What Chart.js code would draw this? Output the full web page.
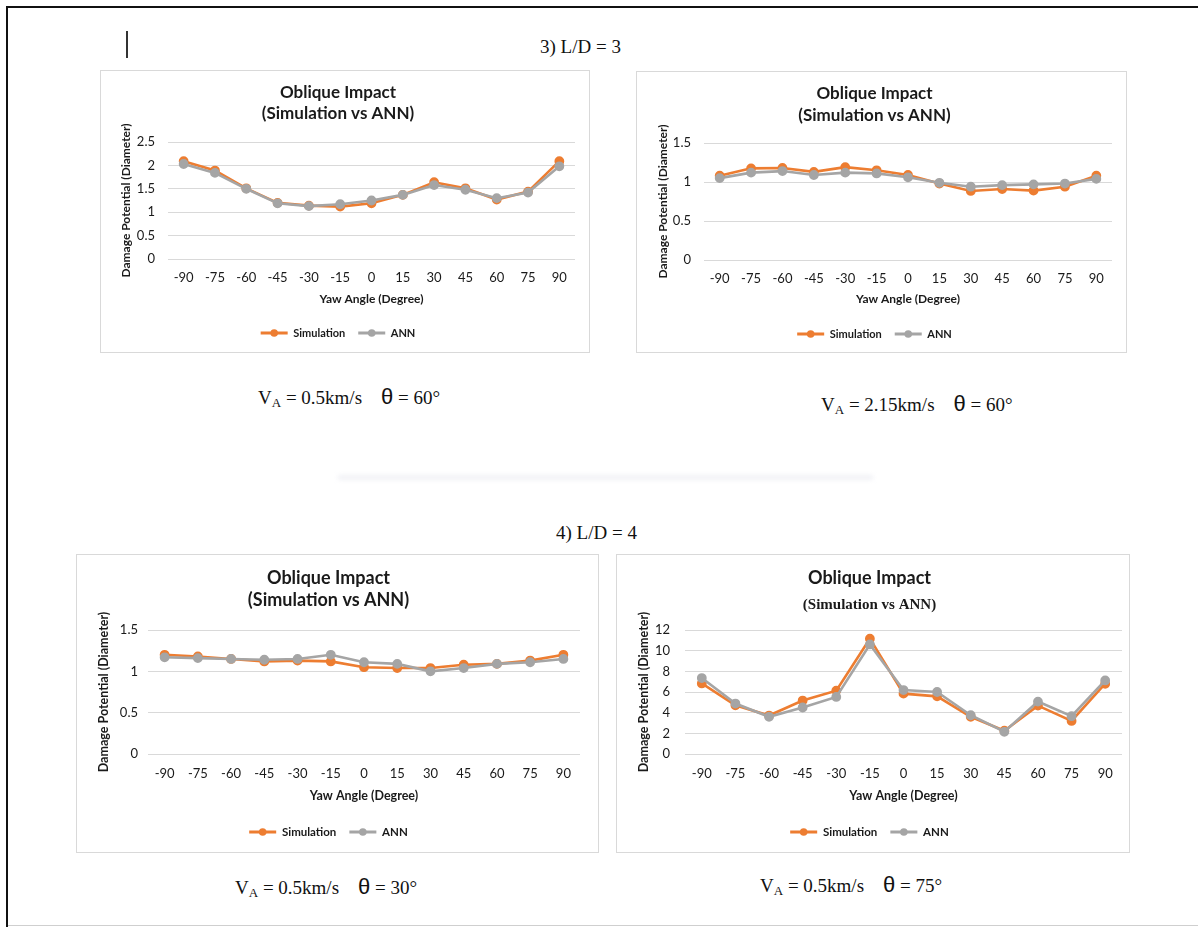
<!DOCTYPE html>
<html>
<head>
<meta charset="utf-8">
<script src="https://cdn.jsdelivr.net/npm/chart.js@4/dist/chart.umd.min.js"></script>
<style>
  body { margin: 0; background: #fff; }
  #page { position: relative; width: 1198px; height: 927px; overflow: hidden; background: #fff; }
  .frame { position: absolute; border: 1px solid #d9d9d9; background: #fff; }
  .frame canvas { display: block; }
  .txt { position: absolute; font-family: "Liberation Serif", "Times New Roman", serif; font-size: 19px;
         color: #111; white-space: nowrap; line-height: 1; }
  .txt sub { font-size: 13px; vertical-align: -3px; line-height: 0; }
  .theta { font-family: "Liberation Sans", Arial, sans-serif; font-size: 22px; }
</style>
</head>
<body>
<div id="page">
  <div style="position:absolute;left:6px;top:6px;width:1192px;height:2px;background:#111"></div>
  <div style="position:absolute;left:6px;top:6px;width:2px;height:921px;background:#111"></div>
  <div style="position:absolute;left:8px;top:925px;width:1190px;height:1px;background:#cfcfcf"></div>
  <div style="position:absolute;left:126px;top:31px;width:2px;height:27px;background:#333"></div>
  <div style="position:absolute;left:338px;top:475px;width:535px;height:5px;background:#f1f2f6;filter:blur(2px)"></div>

  <div class="txt" style="left:540px;top:37px">3) L/D = 3</div>
  <div class="txt" style="left:556px;top:523px">4) L/D = 4</div>

  <div class="frame" style="left:100px;top:70px"><canvas id="c1" width="488" height="281"></canvas></div>
  <div class="frame" style="left:636px;top:71px"><canvas id="c2" width="489" height="280"></canvas></div>
  <div class="frame" style="left:76px;top:554px"><canvas id="c3" width="521" height="297"></canvas></div>
  <div class="frame" style="left:616px;top:554px"><canvas id="c4" width="512" height="297"></canvas></div>

  <div class="txt" style="left:258px;top:386px">V<sub>A</sub> = 0.5km/s&nbsp;&nbsp;&nbsp;&nbsp;<span class="theta">θ</span> = 60°</div>
  <div class="txt" style="left:821px;top:393px">V<sub>A</sub> = 2.15km/s&nbsp;&nbsp;&nbsp;&nbsp;<span class="theta">θ</span> = 60°</div>
  <div class="txt" style="left:235px;top:876px">V<sub>A</sub> = 0.5km/s&nbsp;&nbsp;&nbsp;&nbsp;<span class="theta">θ</span> = 30°</div>
  <div class="txt" style="left:760px;top:874px">V<sub>A</sub> = 0.5km/s&nbsp;&nbsp;&nbsp;&nbsp;<span class="theta">θ</span> = 75°</div>
</div>

<script>
// yaw angles shared by all four panels
const yawAngles = ['-90', '-75', '-60', '-45', '-30', '-15', '0', '15', '30', '45', '60', '75', '90'];

// L/D = 3, VA = 0.5 km/s, theta = 60
const sim1 = [2.09, 1.89, 1.51, 1.20, 1.14, 1.12, 1.19, 1.37, 1.64, 1.51, 1.27, 1.44, 2.09];
const ann1 = [2.03, 1.84, 1.50, 1.19, 1.13, 1.17, 1.25, 1.37, 1.58, 1.48, 1.30, 1.42, 1.98];

// L/D = 3, VA = 2.15 km/s, theta = 60
const sim2 = [1.08, 1.175, 1.18, 1.13, 1.19, 1.15, 1.09, 0.98, 0.885, 0.91, 0.89, 0.94, 1.08];
const ann2 = [1.05, 1.12, 1.14, 1.09, 1.12, 1.11, 1.06, 0.99, 0.94, 0.96, 0.97, 0.98, 1.04];

// L/D = 4, VA = 0.5 km/s, theta = 30
const sim3 = [1.20, 1.18, 1.15, 1.12, 1.13, 1.12, 1.05, 1.04, 1.04, 1.08, 1.09, 1.13, 1.20];
const ann3 = [1.17, 1.16, 1.15, 1.14, 1.15, 1.20, 1.11, 1.09, 1.00, 1.04, 1.09, 1.11, 1.15];

// L/D = 4, VA = 0.5 km/s, theta = 75
const sim4 = [6.83, 4.72, 3.72, 5.17, 6.13, 11.16, 5.84, 5.58, 3.60, 2.25, 4.68, 3.20, 6.80];
const ann4 = [7.35, 4.88, 3.60, 4.50, 5.52, 10.60, 6.19, 6.00, 3.75, 2.15, 5.07, 3.66, 7.12];

const yMax = [2.5, 1.5, 1.5, 12];
const yStep = [0.5, 0.5, 0.5, 2];

const ORANGE = '#ED7D31';
const GREY = '#A5A5A5';
const INK = '#1a1a1a';
const SANS = 'Lato';

// excel-style legend: a line with a dot in the middle
const legendDots = {
  id: 'legendDots',
  afterDraw(chart) {
    const lg = chart.legend;
    if (!lg || !lg.legendHitBoxes) return;
    const ctx = chart.ctx;
    const bw = lg.options.labels.boxWidth;
    lg.legendHitBoxes.forEach((hb, i) => {
      const ds = chart.data.datasets[lg.legendItems[i].datasetIndex];
      ctx.save();
      ctx.fillStyle = ds.borderColor;
      ctx.beginPath();
      ctx.arc(hb.left + bw / 2, hb.top + hb.height / 2, 3.8, 0, Math.PI * 2);
      ctx.fill();
      ctx.restore();
    });
  }
};

function series(label, data, color, order) {
  return {
    label, data, order,
    borderColor: color,
    backgroundColor: color,
    pointBackgroundColor: color,
    pointBorderColor: color,
    borderWidth: 2.6,
    pointRadius: 3.6,
    pointHoverRadius: 3.6,
    tension: 0
  };
}

function makeChart(id, sim, ann, k, L) {
  new Chart(document.getElementById(id), {
    type: 'line',
    data: {
      labels: yawAngles,
      datasets: [series('Simulation', sim, ORANGE, 1), series('ANN', ann, GREY, 0)]
    },
    options: {
      responsive: false,
      animation: false,
      events: [],
      layout: { padding: L.pad },
      plugins: {
        title: {
          display: true, text: 'Oblique Impact', color: INK,
          font: { family: SANS, size: L.titleSize, weight: 'bold' },
          padding: L.titlePad
        },
        subtitle: {
          display: true, text: '(Simulation vs ANN)', color: INK,
          font: L.subFont,
          padding: L.subPad
        },
        legend: {
          position: 'bottom',
          labels: {
            color: INK,
            font: { family: SANS, size: L.legendSize, weight: 'bold' },
            boxWidth: 27, boxHeight: 3, padding: 13,
            sort: (a, b) => a.datasetIndex - b.datasetIndex,
            generateLabels: chart =>
              Chart.defaults.plugins.legend.labels.generateLabels(chart).map(it => ({ ...it, lineWidth: 0 }))
          }
        },
        tooltip: { enabled: false }
      },
      scales: {
        x: {
          offset: true,
          grid: { display: false, drawTicks: false },
          border: { display: false },
          ticks: { color: INK, padding: L.xTickPad, font: { family: SANS, size: 13 } },
          title: {
            display: true, text: 'Yaw Angle (Degree)', color: INK,
            font: { family: SANS, size: L.axisSize, weight: 'bold' },
            padding: { top: 0, bottom: L.xTitlePad }
          },
          afterFit: s => { s.height = L.xHeight; }
        },
        y: {
          min: 0, max: yMax[k],
          grid: { color: '#d9d9d9', lineWidth: 1, drawTicks: false },
          border: { display: false },
          ticks: {
            stepSize: yStep[k], color: INK, padding: L.yTickPad, font: { family: SANS, size: 13 },
            callback: v => String(Number(v.toFixed(2)))
          },
          title: {
            display: true, text: 'Damage Potential (Diameter)', color: INK,
            font: { family: SANS, size: L.axisSize, weight: 'bold' },
            padding: { top: L.yTitlePad, bottom: 0 }
          },
          afterFit: s => { s.width = L.yWidth; }
        }
      }
    },
    plugins: [legendDots]
  });
}

makeChart('c1', sim1, ann1, 0, {
  pad: { left: 0, right: 14, top: 0, bottom: 3.5 },
  titleSize: 17, titlePad: { top: 11.8, bottom: 0 },
  subFont: { family: SANS, size: 17, weight: 'bold' }, subPad: { top: 0.6, bottom: 17.8 },
  legendSize: 11, axisSize: 12,
  xHeight: 55.5, xTickPad: 11, xTitlePad: 8.3,
  yWidth: 67, yTickPad: 13, yTitlePad: 17.8
});

makeChart('c2', sim2, ann2, 1, {
  pad: { left: 0, right: 14, top: 0, bottom: 2.5 },
  titleSize: 17, titlePad: { top: 11.1, bottom: 0 },
  subFont: { family: SANS, size: 17, weight: 'bold' }, subPad: { top: 2, bottom: 17.1 },
  legendSize: 11, axisSize: 12,
  xHeight: 55.5, xTickPad: 11, xTitlePad: 9,
  yWidth: 67, yTickPad: 13, yTitlePad: 18.5
});

makeChart('c3', sim3, ann3, 2, {
  pad: { left: 0, right: 18, top: 0, bottom: 4.25 },
  titleSize: 18, titlePad: { top: 12.2, bottom: 0 },
  subFont: { family: SANS, size: 18, weight: 'bold' }, subPad: { top: 0.4, bottom: 19.2 },
  legendSize: 11.5, axisSize: 12.5,
  xHeight: 59.25, xTickPad: 12.2, xTitlePad: 9.75,
  yWidth: 71, yTickPad: 10, yTitlePad: 19.5
});

makeChart('c4', sim4, ann4, 3, {
  pad: { left: 0, right: 7, top: 0, bottom: 4.25 },
  titleSize: 18, titlePad: { top: 12.2, bottom: 0 },
  subFont: { family: 'Liberation Serif', size: 15, weight: 'bold' }, subPad: { top: 7.2, bottom: 16 },
  legendSize: 11.5, axisSize: 12.5,
  xHeight: 59.25, xTickPad: 12.2, xTitlePad: 9.75,
  yWidth: 68, yTickPad: 15, yTitlePad: 19.8
});
</script>
</body>
</html>
